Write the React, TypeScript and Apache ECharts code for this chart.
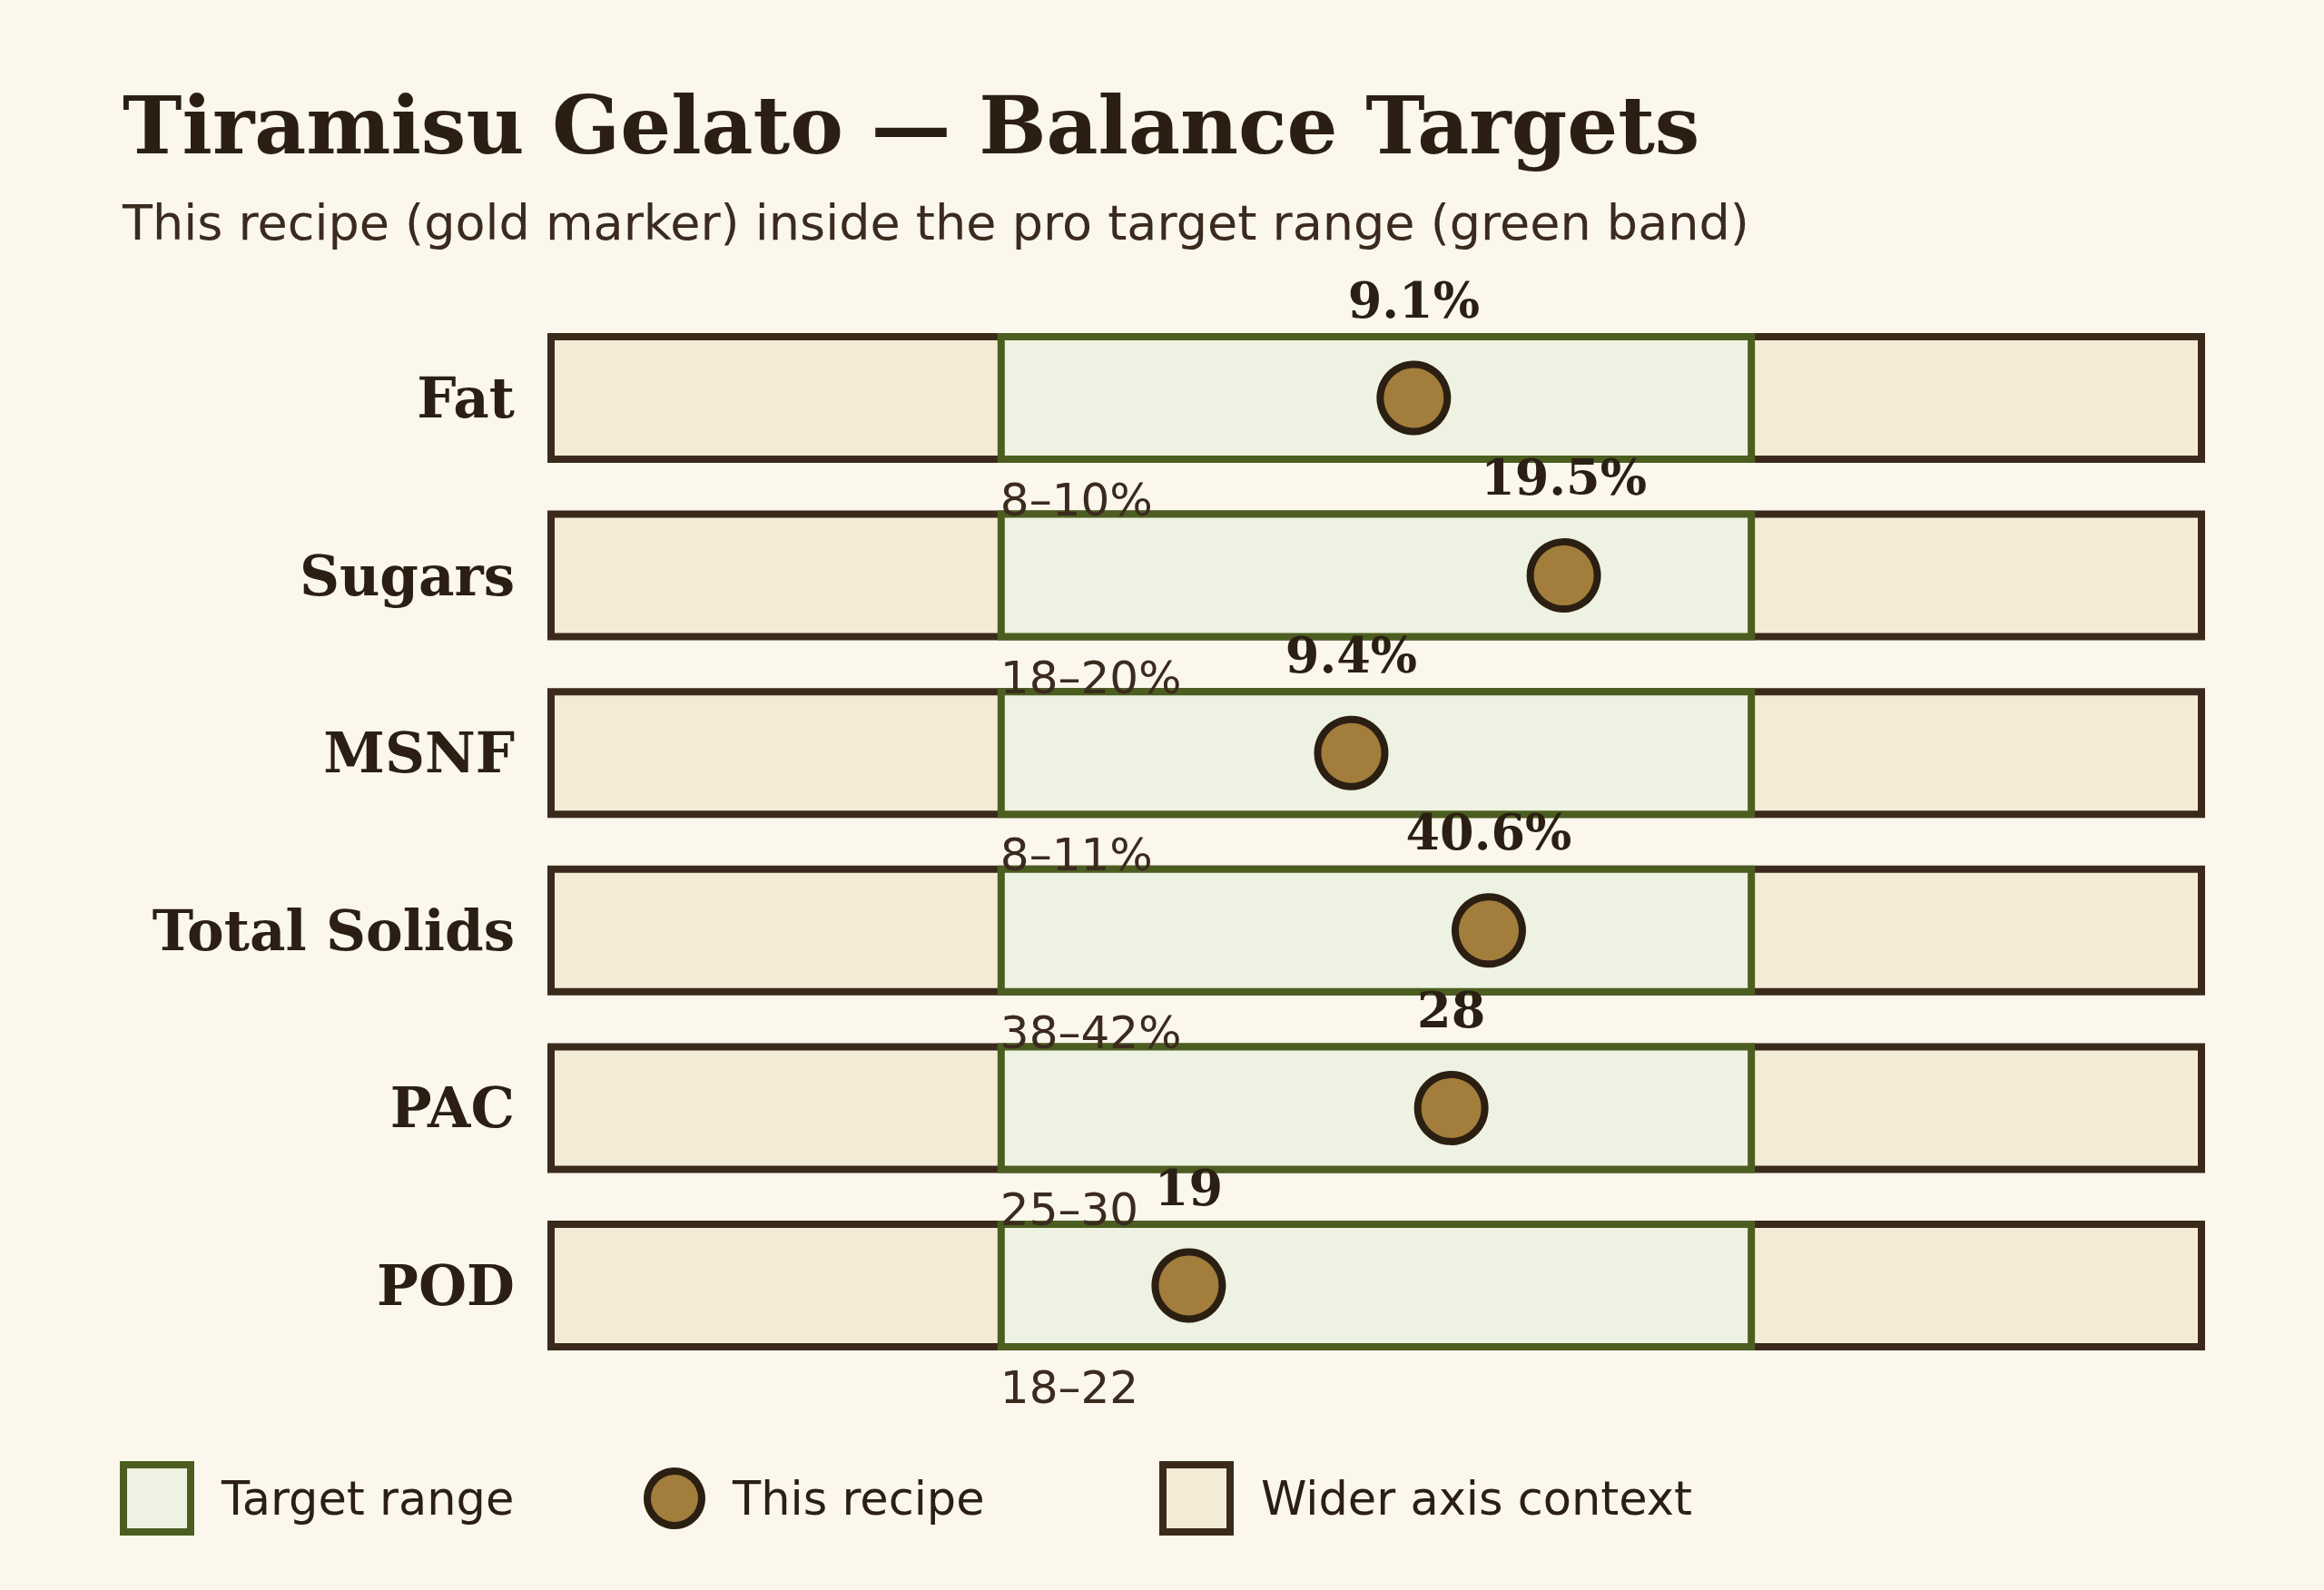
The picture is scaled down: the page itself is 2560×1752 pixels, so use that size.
import { useEffect, useRef } from "react";
import * as echarts from "echarts";

const metrics = ["Fat", "Sugars", "MSNF", "Total Solids", "PAC", "POD"];
const targetLow = [8, 18, 8, 38, 25, 18];
const targetHigh = [10, 20, 11, 42, 30, 22];
const recipeValues = [9.1, 19.5, 9.4, 40.6, 28, 19];
const units = ["%", "%", "%", "%", "", ""];

// how far the axis reaches past the target band, as a share of the band
const CONTEXT = 0.6;

const SERIF = "DejaVu Serif";
const SANS = "DejaVu Sans";
const INK = "#2b1f14";
const BG = "#fbf7ec";

const ROW_TOP = 371;
const ROW_PITCH = 195.6;
const ROW_HEIGHT = 135;

export default function App() {
  const ref = useRef<HTMLDivElement | null>(null);

  useEffect(() => {
    if (!ref.current) {
      return;
    }

    const chart = echarts.init(ref.current, null, { renderer: "svg" });

    const grids = metrics.map((_, i) => ({
      left: 607,
      right: 135,
      top: ROW_TOP + i * ROW_PITCH,
      height: ROW_HEIGHT,
      show: true,
      backgroundColor: "#f3ebd6",
      borderColor: "#3b2a1b",
      borderWidth: 8
    }));

    const xAxes = metrics.map((_, i) => {
      const span = targetHigh[i] - targetLow[i];
      return {
        type: "value",
        gridIndex: i,
        min: targetLow[i] - CONTEXT * span,
        max: targetHigh[i] + CONTEXT * span,
        show: false
      };
    });

    const yAxes = metrics.map((name, i) => ({
      type: "category",
      gridIndex: i,
      data: [name],
      axisLine: { show: false },
      axisTick: { show: false },
      splitLine: { show: false },
      axisLabel: {
        margin: 40,
        fontFamily: SERIF,
        fontWeight: "bold",
        fontSize: 61,
        color: INK
      }
    }));

    const bands = metrics.map((_, i) => ({
      name: "Target range",
      type: "scatter",
      xAxisIndex: i,
      yAxisIndex: i,
      data: [],
      silent: true,
      markArea: {
        silent: true,
        itemStyle: {
          color: "#eef2e2",
          borderColor: "#4b5e20",
          borderWidth: 8
        },
        label: {
          show: true,
          position: ["0%", "100%"],
          align: "left",
          verticalAlign: "top",
          offset: [3, 16],
          formatter: `${targetLow[i]}–${targetHigh[i]}${units[i]}`,
          fontFamily: SANS,
          fontSize: 50,
          color: "#3b2a1e"
        },
        data: [[{ xAxis: targetLow[i] }, { xAxis: targetHigh[i] }]]
      }
    }));

    const markers = metrics.map((name, i) => ({
      name: "This recipe",
      type: "scatter",
      xAxisIndex: i,
      yAxisIndex: i,
      z: 5,
      symbol: "circle",
      symbolSize: 74,
      itemStyle: {
        color: "#a27d3c",
        borderColor: "#2b1f12",
        borderWidth: 8,
        opacity: 1
      },
      label: {
        show: true,
        position: "top",
        distance: 40,
        formatter: `${recipeValues[i]}${units[i]}`,
        fontFamily: SERIF,
        fontWeight: "bold",
        fontSize: 54,
        color: INK
      },
      data: [[recipeValues[i], name]]
    }));

    const legendText = {
      fontFamily: SANS,
      fontSize: 51,
      color: INK,
      padding: [0, 0, 0, 29]
    };

    chart.setOption({
      animation: false,
      backgroundColor: BG,
      title: [
        {
          text: "Tiramisu Gelato — Balance Targets",
          left: 135,
          top: 94,
          padding: 0,
          textStyle: {
            fontFamily: SERIF,
            fontWeight: "bold",
            fontSize: 88,
            color: INK
          }
        },
        {
          text: "This recipe (gold marker) inside the pro target range (green band)",
          left: 135,
          top: 218,
          padding: 0,
          textStyle: {
            fontFamily: SANS,
            fontWeight: "normal",
            fontSize: 54,
            color: "#3b2a1e"
          }
        }
      ],
      legend: [
        {
          left: 132,
          top: 1610,
          padding: 0,
          itemWidth: 74,
          itemHeight: 74,
          selectedMode: false,
          textStyle: legendText,
          data: [
            {
              name: "Target range",
              icon: "rect",
              itemStyle: {
                color: "#eef2e2",
                borderColor: "#4b5e20",
                borderWidth: 8,
                opacity: 1
              }
            }
          ]
        },
        {
          left: 709,
          top: 1617,
          padding: 0,
          itemWidth: 60,
          itemHeight: 60,
          selectedMode: false,
          textStyle: legendText,
          data: [
            {
              name: "This recipe",
              icon: "circle",
              itemStyle: {
                color: "#a27d3c",
                borderColor: "#2b1f12",
                borderWidth: 8,
                opacity: 1
              }
            }
          ]
        },
        {
          left: 1277,
          top: 1610,
          padding: 0,
          itemWidth: 74,
          itemHeight: 74,
          selectedMode: false,
          textStyle: legendText,
          data: [
            {
              name: "Wider axis context",
              icon: "rect",
              itemStyle: {
                color: "#f3ebd6",
                borderColor: "#3b2a1b",
                borderWidth: 8,
                opacity: 1
              }
            }
          ]
        }
      ],
      grid: grids,
      xAxis: xAxes,
      yAxis: yAxes,
      series: [
        ...bands,
        ...markers,
        {
          name: "Wider axis context",
          type: "scatter",
          xAxisIndex: 0,
          yAxisIndex: 0,
          itemStyle: { opacity: 1 },
          data: []
        }
      ]
    });

    return () => {
      chart.dispose();
    };
  }, []);

  return (
    <div
      ref={ref}
      style={{
        position: "fixed",
        left: 0,
        top: 0,
        width: 2560,
        height: 1752,
        background: BG
      }}
    />
  );
}
